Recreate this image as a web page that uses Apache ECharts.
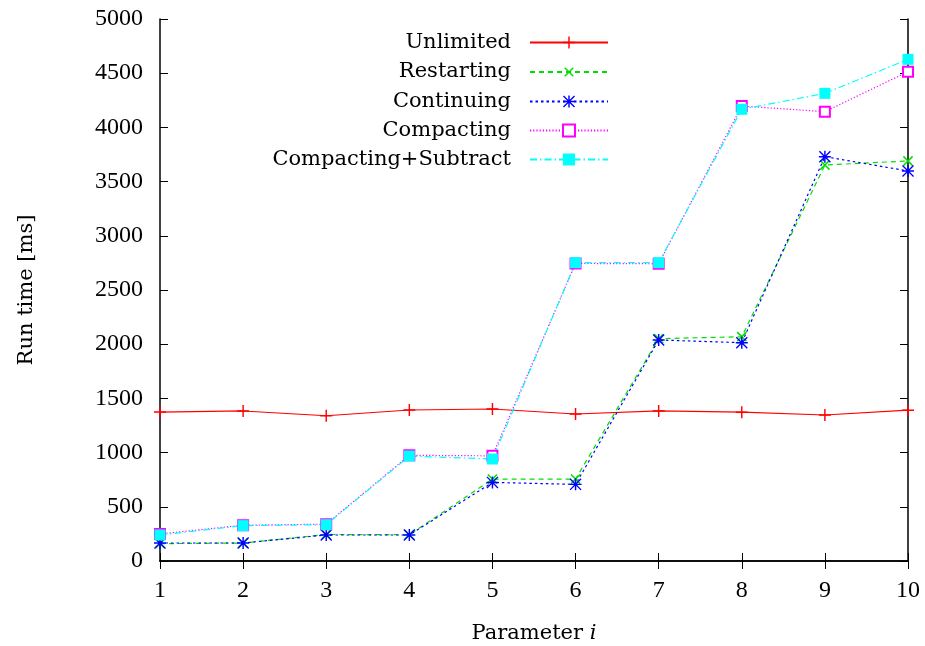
<!DOCTYPE html>
<html>
<head>
<meta charset="utf-8">
<script src="https://cdn.jsdelivr.net/npm/echarts@6/dist/echarts.min.js"></script>
<style>html,body{margin:0;padding:0;background:#fff}#c{width:925px;height:646px}</style>
</head>
<body>
<div id="c"></div>
<script>
const params = [1, 2, 3, 4, 5, 6, 7, 8, 9, 10];
const seriesNames = ['Unlimited', 'Restarting', 'Continuing', 'Compacting', 'Compacting+Subtract'];
const unlimited = [1374, 1384, 1340, 1393, 1402, 1356, 1384, 1373, 1347, 1391];
const restarting = [160, 166, 245, 242, 756, 756, 2051, 2069, 3653, 3690];
const continuing = [166, 166, 240, 240, 725, 707, 2039, 2014, 3730, 3598];
const compacting = [250, 330, 340, 975, 970, 2745, 2742, 4197, 4145, 4514];
const compactingSubtract = [240, 326, 335, 968, 941, 2752, 2752, 4167, 4314, 4628];
const yTicks = [0, 500, 1000, 1500, 2000, 2500, 3000, 3500, 4000, 4500, 5000];

const NUMFONT = 'Liberation Serif';
const FONT = 'DejaVu Serif';
const PLUS = 'path://M4.4,0H5.6V4.4H10V5.6H5.6V10H4.4V5.6H0V4.4H4.4Z';
const STAR = 'path://M4.4,0H5.6V4.4H10V5.6H5.6V10H4.4V5.6H0V4.4H4.4Z' +
  'M0,0.8L0.8,0L10,9.2L9.2,10Z' +
  'M9.2,0L10,0.8L0.8,10L0,9.2Z';

function pairs(vals) { return params.map((x, i) => [x, vals[i]]); }

const defs = [
  {name: seriesNames[0], data: unlimited, color: '#ff0000', type: 'solid', symbol: PLUS, size: 12, rotate: 0},
  {name: seriesNames[1], data: restarting, color: '#00e000', type: [5, 4], symbol: PLUS, size: 13, rotate: 45},
  {name: seriesNames[2], data: continuing, color: '#0000ff', type: [2.5, 3], symbol: STAR, size: 12, rotate: 0},
  {name: seriesNames[3], data: compacting, color: '#ff00ff', type: [1.2, 2], symbol: 'emptyRect', size: 10, rotate: 0},
  {name: seriesNames[4], data: compactingSubtract, color: '#00ffff', type: [7, 3, 1.5, 3], symbol: 'rect', size: 11, rotate: 0}
];

const series = defs.map(d => ({
  name: d.name,
  type: 'line',
  xAxisIndex: 0,
  yAxisIndex: 0,
  data: pairs(d.data),
  symbol: d.symbol,
  symbolSize: d.size,
  symbolRotate: d.rotate,
  showAllSymbol: true,
  animation: false,
  lineStyle: {color: d.color, width: 1.2, type: d.type},
  itemStyle: {color: d.color, borderColor: d.color, borderWidth: d.symbol === 'emptyRect' ? 1.3 : 0}
}));

const rowCenters = [41.5, 71, 100.5, 129.5, 158.5];
const legends = defs.map((d, i) => ({
  data: [d.name],
  orient: 'vertical',
  align: 'right',
  right: 316,
  top: rowCenters[i] - 11,
  itemWidth: 78,
  itemHeight: 15,
  padding: 0,
  selectedMode: false,
  textStyle: {fontFamily: FONT, fontSize: 21, color: '#000', padding: [0, 14, 0, 0], lineHeight: 24}
}));

const axisLine = {show: true, lineStyle: {color: '#000', width: 1.5}};
const tick = {show: true, inside: true, length: 8, lineStyle: {color: '#000', width: 1}};

const option = {
  backgroundColor: '#fff',
  animation: false,
  legend: legends,
  grid: {left: 160, right: 17, top: 19, bottom: 85, containLabel: false, outerBoundsMode: 'none'},
  xAxis: [
    {type: 'value', min: 1, max: 10, interval: 1, position: 'bottom',
     name: '{a|Parameter}\u00a0\u00a0{b|i}', nameLocation: 'middle', nameGap: 62,
     nameTextStyle: {rich: {a: {fontFamily: FONT, fontSize: 21, color: '#000'}, b: {fontFamily: FONT, fontSize: 21, fontStyle: 'italic', color: '#000'}}},
     axisLine: axisLine, axisTick: tick, splitLine: {show: false},
     axisLabel: {fontFamily: NUMFONT, fontSize: 24, color: '#000', margin: 18}},
    {type: 'value', min: 1, max: 10, interval: 1, position: 'top',
     axisLine: axisLine, axisTick: tick, splitLine: {show: false}, axisLabel: {show: false}}
  ],
  yAxis: [
    {type: 'value', min: yTicks[0], max: yTicks[yTicks.length - 1], interval: yTicks[1] - yTicks[0], position: 'left',
     name: 'Run time [ms]', nameLocation: 'middle', nameGap: 123,
     nameTextStyle: {fontFamily: FONT, fontSize: 21, color: '#000'},
     axisLine: axisLine, axisTick: tick, splitLine: {show: false},
     axisLabel: {fontFamily: NUMFONT, fontSize: 24, color: '#000', margin: 17, formatter: v => String(v)}},
    {type: 'value', min: yTicks[0], max: yTicks[yTicks.length - 1], interval: yTicks[1] - yTicks[0], position: 'right',
     axisLine: axisLine, axisTick: tick, splitLine: {show: false}, axisLabel: {show: false}}
  ],
  series: series
};

const chart = echarts.init(document.getElementById('c'), null, {renderer: 'canvas'});
chart.setOption(option);
</script>
</body>
</html>
